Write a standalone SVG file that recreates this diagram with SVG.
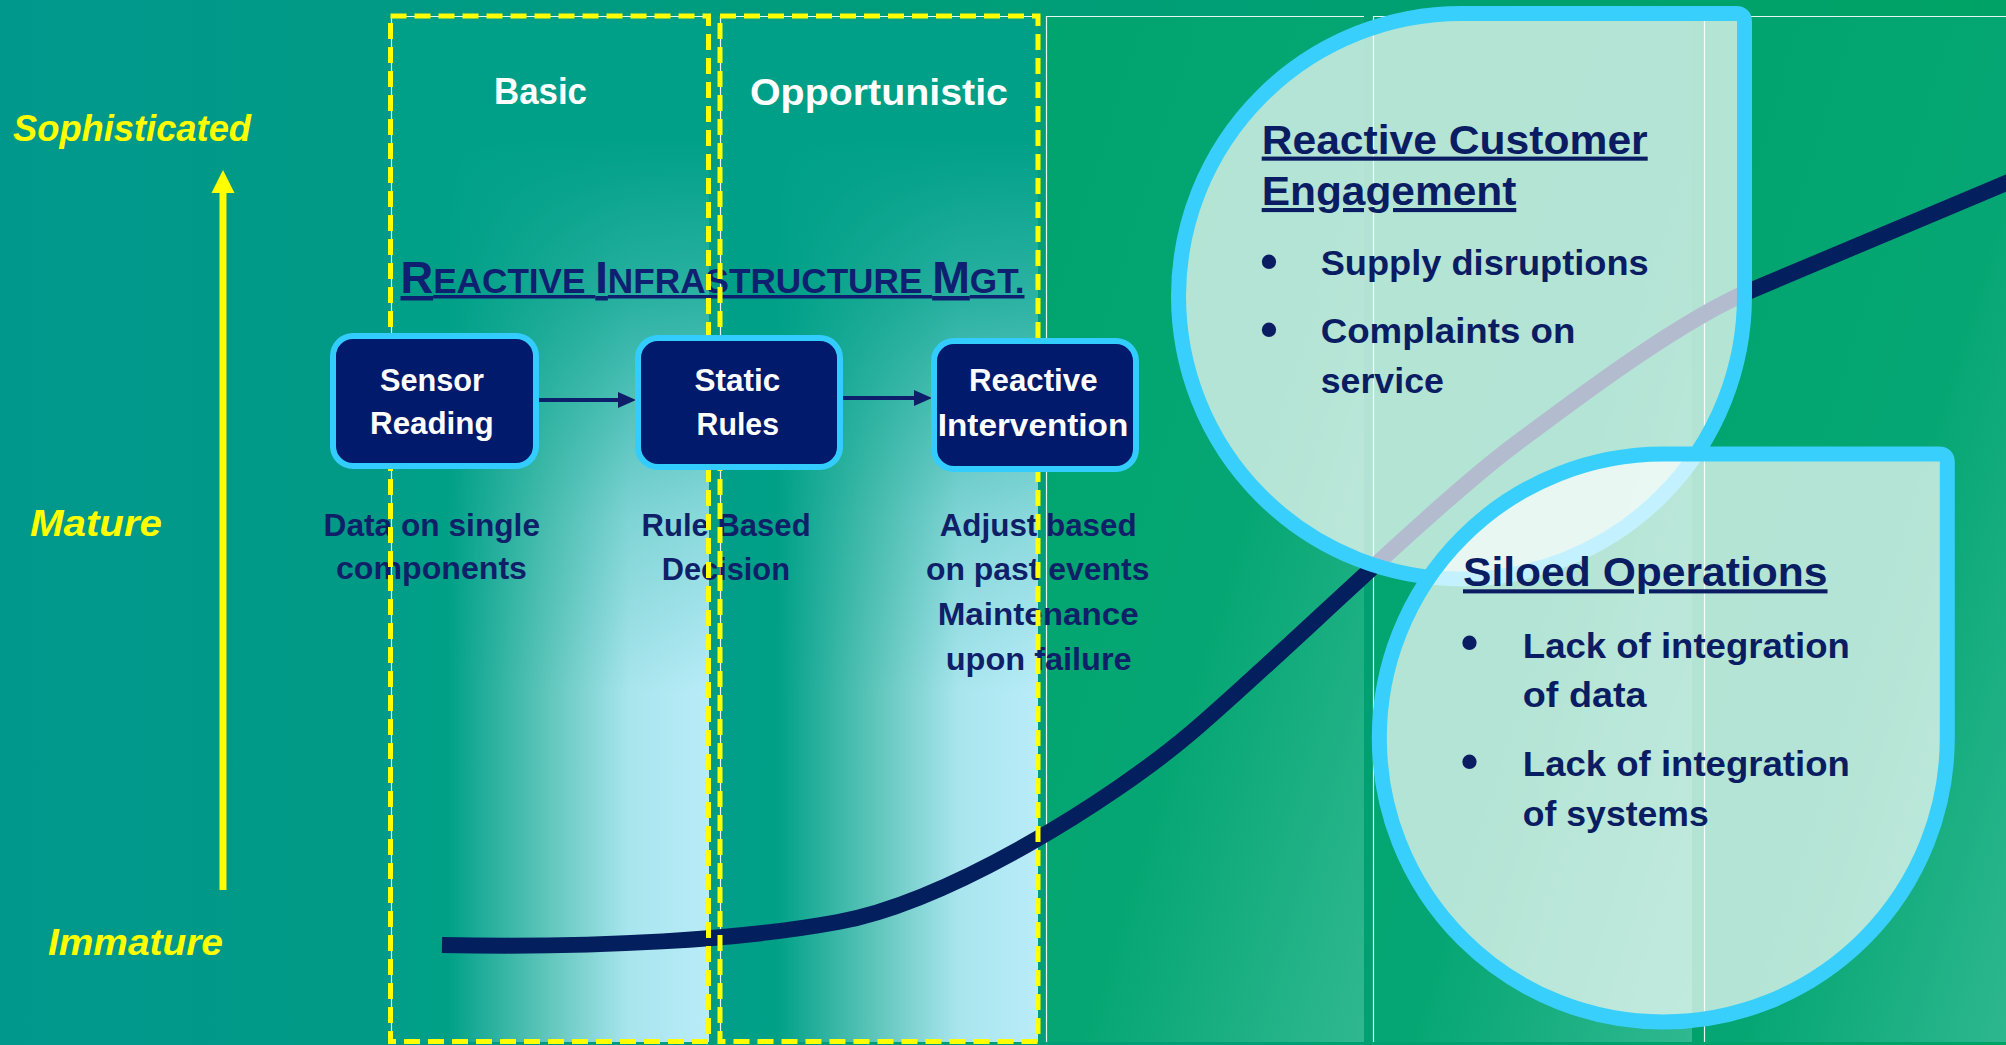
<svg xmlns="http://www.w3.org/2000/svg" width="2006" height="1045" viewBox="0 0 2006 1045">
<defs>
<linearGradient id="bg" x1="0" y1="0" x2="1" y2="0">
<stop offset="0" stop-color="#00988d"/><stop offset="1" stop-color="#00a365"/>
</linearGradient>
<linearGradient id="gc" x1="0" y1="0" x2="1" y2="0">
<stop offset="0" stop-color="#009e88"/><stop offset="0.18" stop-color="#00a087"/><stop offset="0.5" stop-color="#62c7bd"/><stop offset="0.75" stop-color="#a9e5ee"/><stop offset="1" stop-color="#b8ecf8"/>
</linearGradient>
<linearGradient id="gv" gradientUnits="userSpaceOnUse" x1="0" y1="16" x2="0" y2="1042">
<stop offset="0" stop-color="#00a088" stop-opacity="1"/><stop offset="0.12" stop-color="#00a088" stop-opacity="1"/><stop offset="0.28" stop-color="#00a088" stop-opacity="0.75"/><stop offset="0.49" stop-color="#00a088" stop-opacity="0.25"/><stop offset="0.66" stop-color="#00a088" stop-opacity="0"/>
</linearGradient>
<linearGradient id="gg" x1="0" y1="0" x2="1" y2="1">
<stop offset="0" stop-color="#00a46e"/><stop offset="0.55" stop-color="#05a673"/><stop offset="1" stop-color="#30b890"/>
</linearGradient>
<marker id="ah" markerUnits="userSpaceOnUse" markerWidth="18" markerHeight="16" refX="0" refY="8" orient="auto">
<path d="M0,0 L18,8 L0,16 Z" fill="#0d1f6b"/>
</marker>
<style>
text{font-family:"Liberation Sans",Arial,sans-serif;font-weight:bold}
.lvl{fill:#ffff00;font-style:italic;font-size:37px}
.stage{fill:#ffffff;font-size:36px}
.nt{fill:#ffffff;font-size:32px}
.ds{fill:#0f1f68;font-size:31px}
.hd{fill:#0b1d62;font-size:41px;text-decoration:underline}
.bl{fill:#0b1d62;font-size:35px}
.bu{fill:#0b1d62;font-size:50px}
.col{stroke:#ffffff;stroke-width:1.2;stroke-opacity:0.9}
.dash{fill:none;stroke:#ffff00;stroke-width:5;stroke-dasharray:16 8}
.node{fill:#021a6b;stroke:#33ccff;stroke-width:6}
.bub{fill:#ffffff;fill-opacity:0.7;stroke:#38cffd;stroke-width:15}
.conn{stroke:#0d1f6b;stroke-width:4;fill:none}
</style>
</defs>

<rect x="0" y="0" width="2006" height="1045" fill="url(#bg)"/>

<g id="columns">
<rect x="391" y="16" width="318" height="1026" fill="url(#gc)"/>
<rect x="391" y="16" width="318" height="1026" fill="url(#gv)"/>
<rect x="720" y="16" width="318" height="1026" fill="url(#gc)"/>
<rect x="720" y="16" width="318" height="1026" fill="url(#gv)"/>
<rect x="1046" y="16" width="318" height="1026" fill="url(#gg)"/>
<rect x="1373" y="16" width="319" height="1026" fill="url(#gg)"/>
<rect x="1704" y="16" width="318" height="1026" fill="url(#gg)"/>
<path class="col" fill="none" d="M391.5,1042 V16.5 H709 M720.5,1042 V16.5 H1038 M1046.5,1042 V16.5 H1364 M1373.5,1042 V16.5 H1692 M1704.5,1042 V16.5 H2006"/>
</g>

<g id="axis">
<line x1="223" y1="890" x2="223" y2="190" stroke="#ffff00" stroke-width="7"/>
<path d="M211.5,193 L223,170 L234.5,193 Z" fill="#ffff00"/>
<text class="lvl" x="13" y="141" textLength="238" lengthAdjust="spacingAndGlyphs">Sophisticated</text>
<text class="lvl" x="30" y="536" textLength="132" lengthAdjust="spacingAndGlyphs">Mature</text>
<text class="lvl" x="48" y="955" textLength="175" lengthAdjust="spacingAndGlyphs">Immature</text>
</g>

<g id="maturity-curve">
<path d="M442,945 C600,948 740,940 838,922 C950,901.4 1112,800 1192,732 C1272,664 1433,506 1513,446 C1583,393.5 1682,319.4 1752,290 C1830,257.2 1930,215 2006,183 L2040,168.7" fill="none" stroke="#031f5e" stroke-width="16"/>
</g>

<g id="labels">
<text class="ds" x="323.5" y="536" textLength="216.5" lengthAdjust="spacingAndGlyphs">Data on single</text>
<text class="ds" x="336" y="579" textLength="191" lengthAdjust="spacingAndGlyphs">components</text>
<text class="ds" x="641.6" y="536" textLength="169" lengthAdjust="spacingAndGlyphs">Rule Based</text>
<text class="ds" x="661.7" y="580" textLength="128.3" lengthAdjust="spacingAndGlyphs">Decision</text>
<text class="ds" x="939.7" y="536" textLength="197" lengthAdjust="spacingAndGlyphs">Adjust based</text>
<text class="ds" x="926" y="580" textLength="223.5" lengthAdjust="spacingAndGlyphs">on past events</text>
<text class="ds" x="937.7" y="625" textLength="201" lengthAdjust="spacingAndGlyphs">Maintenance</text>
<text class="ds" x="945.7" y="670" textLength="186" lengthAdjust="spacingAndGlyphs">upon failure</text>
<text x="400.5" y="293" fill="#0f2070" text-decoration="underline" textLength="624" lengthAdjust="spacingAndGlyphs"><tspan font-size="45">R</tspan><tspan font-size="35">EACTIVE </tspan><tspan font-size="45">I</tspan><tspan font-size="35">NFRASTRUCTURE </tspan><tspan font-size="45">M</tspan><tspan font-size="35">GT.</tspan></text>
</g>

<g id="stage-basic">
<rect class="dash" x="390.5" y="16" width="318" height="1025.5"/>
<text class="stage" x="494" y="104" textLength="93" lengthAdjust="spacingAndGlyphs">Basic</text>
</g>
<g id="stage-opportunistic">
<rect class="dash" x="720" y="16" width="318" height="1025.5"/>
<text class="stage" x="750" y="105" textLength="258" lengthAdjust="spacingAndGlyphs">Opportunistic</text>
</g>

<g id="connectors">
<line class="conn" x1="539" y1="400" x2="618" y2="400" marker-end="url(#ah)"/>
<line class="conn" x1="843" y1="398" x2="914" y2="398" marker-end="url(#ah)"/>
</g>

<g id="node-sensor-reading">
<rect class="node" x="333" y="336" width="203" height="130" rx="20"/>
<text class="nt" x="380" y="391" textLength="104" lengthAdjust="spacingAndGlyphs">Sensor</text>
<text class="nt" x="370" y="434" textLength="123.6" lengthAdjust="spacingAndGlyphs">Reading</text>
</g>
<g id="node-static-rules">
<rect class="node" x="638" y="338" width="202" height="129" rx="20"/>
<text class="nt" x="694.6" y="391" textLength="85.7" lengthAdjust="spacingAndGlyphs">Static</text>
<text class="nt" x="696.6" y="435" textLength="82.4" lengthAdjust="spacingAndGlyphs">Rules</text>
</g>
<g id="node-reactive-intervention">
<rect class="node" x="934" y="341" width="202" height="128" rx="20"/>
<text class="nt" x="969" y="391" textLength="128.5" lengthAdjust="spacingAndGlyphs">Reactive</text>
<text class="nt" x="937.7" y="435.5" textLength="190.6" lengthAdjust="spacingAndGlyphs">Intervention</text>
</g>

<g id="bubble-reactive-customer-engagement">
<path class="bub" d="M1461.5,13.5 H1736 Q1744.5,13.5 1744.5,22 V296 A283,283 0 0 1 1461.5,579 A283,283 0 0 1 1178.5,296 A283,283 0 0 1 1461.5,13.5 Z"/>
<text class="hd" x="1261.7" y="153.6" textLength="386" lengthAdjust="spacingAndGlyphs">Reactive Customer</text>
<text class="hd" x="1261.7" y="205" textLength="254.6" lengthAdjust="spacingAndGlyphs">Engagement</text>
<text class="bu" x="1269" y="278" text-anchor="middle">•</text>
<text class="bl" x="1320.7" y="275" textLength="328" lengthAdjust="spacingAndGlyphs">Supply disruptions</text>
<text class="bu" x="1269" y="346" text-anchor="middle">•</text>
<text class="bl" x="1320.7" y="343" textLength="254.7" lengthAdjust="spacingAndGlyphs">Complaints on</text>
<text class="bl" x="1320.7" y="393" textLength="123.2" lengthAdjust="spacingAndGlyphs">service</text>
</g>

<g id="bubble-siloed-operations">
<path class="bub" d="M1663.3,454 H1939 Q1947.3,454 1947.3,462.3 V738 A284,284 0 0 1 1663.3,1022 A284,284 0 0 1 1379.3,738 A284,284 0 0 1 1663.3,454 Z"/>
<text class="hd" x="1463" y="586.3" textLength="364.5" lengthAdjust="spacingAndGlyphs">Siloed Operations</text>
<text class="bu" x="1469.6" y="659" text-anchor="middle">•</text>
<text class="bl" x="1522.8" y="658.4" textLength="327" lengthAdjust="spacingAndGlyphs">Lack of integration</text>
<text class="bl" x="1522.8" y="707" textLength="123.8" lengthAdjust="spacingAndGlyphs">of data</text>
<text class="bu" x="1469.6" y="778" text-anchor="middle">•</text>
<text class="bl" x="1522.8" y="775.5" textLength="327" lengthAdjust="spacingAndGlyphs">Lack of integration</text>
<text class="bl" x="1522.8" y="826" textLength="186" lengthAdjust="spacingAndGlyphs">of systems</text>
</g>
</svg>
